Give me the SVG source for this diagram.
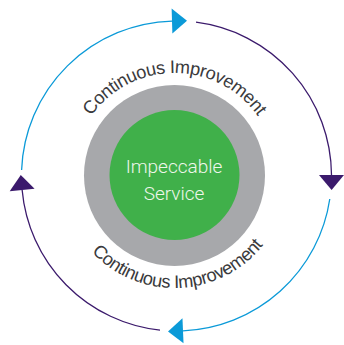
<svg xmlns="http://www.w3.org/2000/svg" width="344" height="345" viewBox="0 0 344 345">
  <style>
    .arc { fill: none; stroke-width: 1.3; }
    .blue { stroke: #0b9ad8; }
    .purple { stroke: #3b1a6c; }
    .ring { font-family: "Liberation Sans", Arial, sans-serif; font-size: 18.2px; letter-spacing: -0.4px; fill: #3a3a3c; }
    .center { font-family: Roboto, "Liberation Sans", sans-serif; font-weight: 300; font-size: 19px; fill: #eef7ea; text-anchor: middle; }
  </style>
  <defs>
    <marker id="headBlue" markerUnits="userSpaceOnUse" markerWidth="16" markerHeight="26" refX="0" refY="12.5" orient="auto" overflow="visible">
      <path d="M0,0 L15,12.5 L0,25 Z" fill="#0b9ad8"/>
    </marker>
    <marker id="headPurple" markerUnits="userSpaceOnUse" markerWidth="16" markerHeight="26" refX="0" refY="12.5" orient="auto" overflow="visible">
      <path d="M0,0 L15,12.5 L0,25 Z" fill="#3b1a6c"/>
    </marker>
    <path id="topArc" d="M72.5,175 A102,102 0 0 1 276.5,175"/>
    <path id="bottomArc" d="M61.5,175 A113,113 0 0 0 287.5,175"/>
  </defs>

  <g id="connectors">
    <path class="arc blue" d="M21.6,170 A155,155 0 0 1 172,21.07" marker-end="url(#headBlue)"/>
    <path class="arc purple" d="M196,22.23 A155,155 0 0 1 331.5,175" marker-end="url(#headPurple)"/>
    <path class="arc blue" d="M329.78,199 A155,155 0 0 1 183,330.86" marker-end="url(#headBlue)"/>
    <path class="arc purple" d="M160,330.12 A155,155 0 0 1 22.13,190" marker-end="url(#headPurple)"/>
  </g>

  <g id="improvement-ring">
    <circle cx="174.5" cy="175.5" r="90.5" fill="#a7a8ab"/>
  </g>

  <g id="impeccable-service">
    <circle cx="174.5" cy="175" r="65" fill="#40b04a"/>
    <text class="center" x="174" y="173">Impeccable</text>
    <text class="center" x="174" y="200">Service</text>
  </g>

  <g id="label-top">
    <text class="ring"><textPath href="#topArc" startOffset="50%" text-anchor="middle">Continuous Improvement</textPath></text>
  </g>
  <g id="label-bottom">
    <text class="ring"><textPath href="#bottomArc" startOffset="51.2%" text-anchor="middle">Continuous Improvement</textPath></text>
  </g>
</svg>
